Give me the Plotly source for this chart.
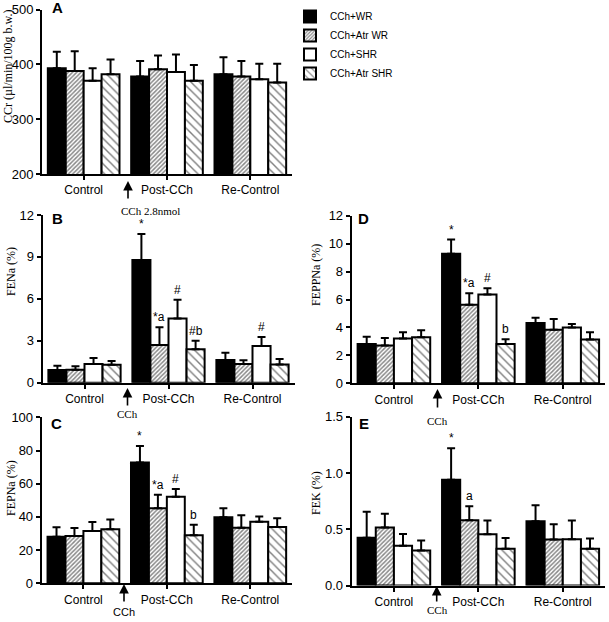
import plotly.graph_objects as go

W, H = 609, 622

categories = ["Control", "Post-CCh", "Re-Control"]
groups = ["CCh+WR", "CCh+Atr WR", "CCh+SHR", "CCh+Atr SHR"]

# Panel A: CCr
ccr_wr = [393, 378, 382]
ccr_wr_err = [30, 28, 31]
ccr_atrwr = [388, 391, 378]
ccr_atrwr_err = [36, 25, 28]
ccr_shr = [370, 386, 373]
ccr_shr_err = [23, 32, 28]
ccr_atrshr = [382, 370, 367]
ccr_atrshr_err = [27, 29, 34]

# Panel B: FENa
fena_wr = [0.91, 8.78, 1.62]
fena_wr_err = [0.31, 1.86, 0.53]
fena_atrwr = [0.93, 2.70, 1.34]
fena_atrwr_err = [0.25, 1.26, 0.26]
fena_shr = [1.34, 4.60, 2.62]
fena_shr_err = [0.43, 1.34, 0.65]
fena_atrshr = [1.29, 2.39, 1.30]
fena_atrshr_err = [0.26, 0.61, 0.40]

# Panel C: FEPNa
fepna_wr = [28.1, 72.7, 39.8]
fepna_wr_err = [5.6, 10.0, 5.4]
fepna_atrwr = [28.5, 45.2, 33.5]
fepna_atrwr_err = [4.8, 8.2, 7.5]
fepna_shr = [31.5, 52.2, 37.1]
fepna_shr_err = [5.5, 4.6, 3.1]
fepna_atrshr = [32.5, 28.9, 33.9]
fepna_atrshr_err = [5.9, 6.4, 5.3]

# Panel D: FEPPNa
feppna_wr = [2.82, 9.28, 4.32]
feppna_wr_err = [0.52, 1.01, 0.38]
feppna_atrwr = [2.70, 5.63, 3.84]
feppna_atrwr_err = [0.55, 0.81, 0.76]
feppna_shr = [3.20, 6.35, 3.99]
feppna_shr_err = [0.45, 0.45, 0.26]
feppna_atrshr = [3.29, 2.82, 3.13]
feppna_atrshr_err = [0.50, 0.33, 0.52]

# Panel E: FEK
fek_wr = [0.425, 0.94, 0.571]
fek_wr_err = [0.23, 0.28, 0.143]
fek_atrwr = [0.515, 0.58, 0.408]
fek_atrwr_err = [0.122, 0.125, 0.137]
fek_shr = [0.354, 0.455, 0.41]
fek_shr_err = [0.104, 0.122, 0.167]
fek_atrshr = [0.31, 0.327, 0.327]
fek_atrshr_err = [0.09, 0.096, 0.09]

# significance marks: (category index, group index, label)
sig_B = [(1, 0, "*"), (1, 1, "*a"), (1, 2, "#"), (1, 3, "#b"), (2, 2, "#")]
sig_C = [(1, 0, "*"), (1, 1, "*a"), (1, 2, "#"), (1, 3, "b")]
sig_D = [(1, 0, "*"), (1, 1, "*a"), (1, 2, "#"), (1, 3, "b")]
sig_E = [(1, 0, "*"), (1, 1, "a")]

SANS = "Liberation Sans, Arial, sans-serif"
SERIF = "Liberation Serif, Times New Roman, serif"
BARGAP = 0.14


def px(x):
    return x / W


def py(y):
    return 1 - y / H


styles = [
    dict(color="black", pattern=None),
    dict(color="white", pattern=dict(shape="/", fgcolor="#111", bgcolor="white", size=3, solidity=0.5)),
    dict(color="white", pattern=None),
    dict(color="white", pattern=dict(shape="\\", fgcolor="black", bgcolor="white", size=6, solidity=0.24)),
]

panels = [
    dict(key="A", ax="", vals=[ccr_wr, ccr_atrwr, ccr_shr, ccr_atrshr],
         errs=[ccr_wr_err, ccr_atrwr_err, ccr_shr_err, ccr_atrshr_err],
         xd=(42, 292), yd=(9.5, 174), yr=[200, 500], tv=[200, 300, 400, 500], fmt=None,
         title="CCr (µl/min/100g b.w.)", tpos=(8, 67), sig=[], letter=(57, 8)),
    dict(key="B", ax="2", vals=[fena_wr, fena_atrwr, fena_shr, fena_atrshr],
         errs=[fena_wr_err, fena_atrwr_err, fena_shr_err, fena_atrshr_err],
         xd=(42.5, 294.5), yd=(215, 382.7), yr=[0, 12], tv=[0, 3, 6, 9, 12], fmt=None,
         title="FENa (%)", tpos=(11, 272), sig=sig_B, letter=(57, 218)),
    dict(key="C", ax="3", vals=[fepna_wr, fepna_atrwr, fepna_shr, fepna_atrshr],
         errs=[fepna_wr_err, fepna_atrwr_err, fepna_shr_err, fepna_atrshr_err],
         xd=(41.7, 292), yd=(417.3, 583.3), yr=[0, 100], tv=[0, 20, 40, 60, 80, 100], fmt=None,
         title="FEPNa (%)", tpos=(11, 488), sig=sig_C, letter=(56, 423)),
    dict(key="D", ax="4", vals=[feppna_wr, feppna_atrwr, feppna_shr, feppna_atrshr],
         errs=[feppna_wr_err, feppna_atrwr_err, feppna_shr_err, feppna_atrshr_err],
         xd=(351.7, 605), yd=(215.7, 383.3), yr=[0, 12], tv=[0, 2, 4, 6, 8, 10, 12], fmt=None,
         title="FEPPNa (%)", tpos=(316, 275), sig=sig_D, letter=(363, 218)),
    dict(key="E", ax="5", vals=[fek_wr, fek_atrwr, fek_shr, fek_atrshr],
         errs=[fek_wr_err, fek_atrwr_err, fek_shr_err, fek_atrshr_err],
         xd=(351.7, 605), yd=(416.7, 585.5), yr=[0, 1.5], tv=[0, 0.5, 1.0, 1.5], fmt=".1f",
         title="FEK (%)", tpos=(316, 493), sig=sig_E, letter=(364, 423)),
]

fig = go.Figure()
annotations = []
layout_axes = {}

bw = (1 - BARGAP) / 4

for p in panels:
    xa = "x" + p["ax"]
    ya = "y" + p["ax"]
    for j, g in enumerate(groups):
        st = styles[j]
        marker = dict(color=st["color"], line=dict(color="black", width=2))
        if st["pattern"]:
            marker["pattern"] = st["pattern"]
        fig.add_trace(go.Bar(
            x=categories, y=p["vals"][j], name=g, legendgroup=g,
            showlegend=(p["key"] == "A"), marker=marker,
            error_y=dict(type="data", symmetric=False, array=p["errs"][j],
                         arrayminus=[0] * len(categories), color="black",
                         thickness=2, width=4),
            xaxis=xa, yaxis=ya,
        ))
    xname = "xaxis" + p["ax"]
    yname = "yaxis" + p["ax"]
    layout_axes[xname] = dict(
        domain=[px(p["xd"][0]), px(p["xd"][1])], anchor=ya,
        type="category", range=[-0.5, 2.5], showline=True, linecolor="black", linewidth=2,
        ticks="outside", ticklen=4, tickwidth=1.5, tickcolor="black", showgrid=False,
        zeroline=False, automargin=False, tickfont=dict(family=SANS, size=12, color="black"),
    )
    layout_axes[yname] = dict(
        domain=[py(p["yd"][1]), py(p["yd"][0])], anchor=xa,
        range=p["yr"], tickvals=p["tv"], showline=True, linecolor="black", linewidth=2,
        ticks="outside", ticklen=4, tickwidth=1.5, tickcolor="black", showgrid=False,
        zeroline=False, automargin=False, tickfont=dict(family=SANS, size=13, color="black"),
    )
    if p["fmt"]:
        layout_axes[yname]["tickformat"] = p["fmt"]
    # y title
    annotations.append(dict(
        text=p["title"], xref="paper", yref="paper", x=px(p["tpos"][0]), y=py(p["tpos"][1]),
        textangle=-90, showarrow=False, xanchor="center", yanchor="middle",
        font=dict(family=SERIF, size=12, color="black")))
    # panel letter
    annotations.append(dict(
        text="<b>%s</b>" % p["key"], xref="paper", yref="paper",
        x=px(p["letter"][0]), y=py(p["letter"][1]), showarrow=False,
        xanchor="center", yanchor="middle", font=dict(family=SANS, size=15, color="black")))
    # significance
    for (ci, gj, lab) in p["sig"]:
        top = p["vals"][gj][ci] + p["errs"][gj][ci]
        annotations.append(dict(
            text=lab, xref=xa, yref=ya, x=ci + (gj - 1.5) * bw, y=top,
            yanchor="bottom", xanchor="center", showarrow=False, yshift=1,
            font=dict(family=SANS, size=12, color="black")))

# arrows (head x, head y, tail y) and labels
arrows = [(128, 181, 200), (127.5, 388, 407), (124, 584, 603), (437.5, 389, 409), (436.7, 586, 603)]
for (ax_, hy, ty) in arrows:
    annotations.append(dict(
        text="", xref="paper", yref="paper", x=px(ax_), y=py(hy), ax=0, ay=ty - hy,
        showarrow=True, arrowhead=2, arrowsize=1.2, arrowwidth=1.6, arrowcolor="black"))

labels = [("CCh 2.8nmol", 150, 211, SERIF), ("CCh", 127, 414, SERIF), ("CCh", 124, 612, SANS),
          ("CCh", 437, 421, SERIF), ("CCh", 437, 610, SERIF)]
for (t, lx, ly, fam) in labels:
    annotations.append(dict(
        text=t, xref="paper", yref="paper", x=px(lx), y=py(ly), showarrow=False,
        xanchor="center", yanchor="middle", font=dict(family=fam, size=11, color="black")))

fig.update_layout(
    width=W, height=H, margin=dict(l=0, r=0, t=0, b=0, autoexpand=False),
    paper_bgcolor="white", plot_bgcolor="white",
    barmode="group", bargap=BARGAP, bargroupgap=0,
    legend=dict(x=px(290), y=py(2), xanchor="left", yanchor="top",
                font=dict(family=SANS, size=10, color="black"), bgcolor="rgba(0,0,0,0)",
                tracegroupgap=0),
    annotations=annotations,
    **layout_axes,
)

fig.write_html("out.html", config={"displayModeBar": False},
               post_script="document.body.style.margin='0';document.body.style.overflow='hidden';")
